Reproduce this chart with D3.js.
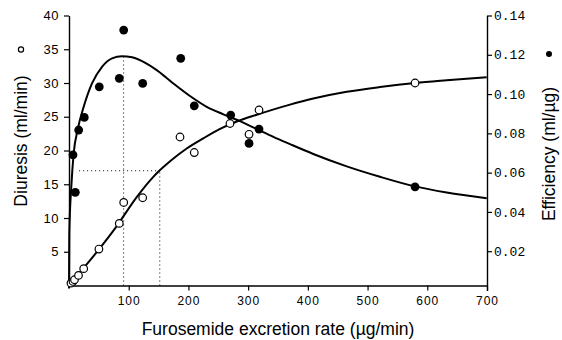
<!DOCTYPE html>
<html><head><meta charset="utf-8">
<script src="https://cdn.jsdelivr.net/npm/d3@7"></script>
<style>
html,body{margin:0;padding:0;background:#fff;}
svg{display:block;}
</style></head>
<body>
<svg id="chart" width="562" height="340"></svg>
<script>
// Open circles: diuresis (ml/min) vs furosemide excretion rate (µg/min)
const diuresisX = [3.3, 6.7, 9.2, 15.9, 24.6, 50.1, 84.2, 91.6, 123.4, 185.9, 209.8, 269.6, 301.5, 318.2, 579.5];
const diuresisY = [0.35, 0.6, 0.85, 1.5, 2.5, 5.4, 9.2, 12.3, 13.0, 22.0, 19.7, 24.0, 22.4, 26.0, 30.0];
// Filled dots: efficiency (ml/µg)
const efficiencyX = [6.7, 10.6, 16.2, 25.6, 50.7, 84.2, 91.6, 123.4, 187.1, 209.8, 270.8, 301.5, 318.2, 579.5];
const efficiencyY = [0.069, 0.050, 0.0817, 0.0881, 0.1037, 0.1080, 0.1326, 0.1054, 0.1182, 0.0940, 0.0893, 0.0749, 0.0822, 0.0528];
// Fitted curves
const diuresisCurveX = [0, 21.8, 49.7, 77.5, 113.4, 141.2, 151.2, 169.2, 197.1, 224.9, 252.9, 280.9, 314.4, 370.1, 409.1, 465.1, 520.8, 579.4, 632.5, 699.5];
const diuresisCurveY = [0, 2.3, 5.3, 8.5, 13.1, 16.1, 17.0, 18.4, 20.3, 21.8, 23.2, 24.3, 25.3, 26.8, 27.7, 28.7, 29.4, 30.0, 30.4, 30.85];
const efficiencyCurveX = [0, 0.5, 3.9, 7.9, 14.6, 24.6, 38.5, 55.3, 72.0, 88.8, 105.5, 127.8, 146.9, 174.7, 202.6, 230.6, 258.4, 286.4, 314.4, 342.2, 370.1, 409.1, 465.1, 520.7, 579.3, 632.4, 699.5];
const efficiencyCurveY = [0.001, 0.029, 0.053, 0.070, 0.082, 0.0935, 0.1054, 0.1139, 0.1182, 0.1193, 0.1187, 0.1159, 0.1122, 0.1054, 0.0990, 0.0935, 0.0897, 0.0862, 0.0822, 0.0782, 0.0745, 0.0695, 0.0632, 0.0579, 0.0530, 0.0499, 0.0470];
// Dotted guide lines
const peakRate = 91.5, peakEff = 0.1193;
const halfRate = 152, halfDiuresis = 17, halfLineStart = 17;
// Tick labels
const xTicks = [100, 200, 300, 400, 500, 600, 700];
const yLeftTicks = [5, 10, 15, 20, 25, 30, 35, 40];
const yRightTicks = [0.02, 0.04, 0.06, 0.08, 0.10, 0.12, 0.14];
const xTitle = "Furosemide excretion rate (\u00b5g/min)";
const yLeftTitle = "Diuresis (ml/min)";
const yRightTitle = "Efficiency (ml/\u00b5g)";

const svg = d3.select("#chart");
const x = d3.scaleLinear().domain([0, 700]).range([69, 487]);
const y = d3.scaleLinear().domain([0, 40]).range([285.5, 15.5]);
const y2 = d3.scaleLinear().domain([0, 0.14]).range([290.5, 15.5]);

// Axes
const gx = svg.append("g").attr("transform", "translate(0,285.5)")
  .call(d3.axisBottom(x).tickValues(xTicks).tickSize(5).tickSizeOuter(0).tickPadding(6));
gx.selectAll("text").attr("font-family", "Liberation Sans, Arial, sans-serif").attr("font-size", 12).attr("letter-spacing", "1px");
const gy = svg.append("g").attr("transform", "translate(69,0)")
  .call(d3.axisLeft(y).tickValues(yLeftTicks).tickSize(5).tickSizeOuter(0).tickPadding(5));
gy.selectAll("text").attr("font-family", "Liberation Sans, Arial, sans-serif").attr("font-size", 13).attr("letter-spacing", "0.5px");
const gy2 = svg.append("g").attr("transform", "translate(487,0)")
  .call(d3.axisRight(y2).tickValues(yRightTicks).tickFormat(d3.format(".2f")).tickSize(5).tickSizeOuter(0).tickPadding(2));
gy2.selectAll("text").attr("font-family", "Liberation Mono, DejaVu Sans Mono, monospace").attr("font-size", 13);
svg.selectAll(".domain").attr("stroke", "#000").attr("stroke-width", 1.4);
svg.selectAll(".tick line").attr("stroke", "#000").attr("stroke-width", 1.2);
svg.selectAll(".tick text").attr("fill", "#000");

// Dotted guides
const dotted = svg.append("g").attr("stroke", "#000").attr("stroke-width", 1).attr("stroke-dasharray", "1,3").attr("fill", "none");
dotted.append("line").attr("x1", x(peakRate)).attr("x2", x(peakRate)).attr("y1", y(0)).attr("y2", y2(peakEff));
dotted.append("line").attr("x1", x(halfRate)).attr("x2", x(halfRate)).attr("y1", y(0)).attr("y2", y(halfDiuresis));
dotted.append("line").attr("x1", x(halfLineStart)).attr("x2", x(halfRate)).attr("y1", y(halfDiuresis)).attr("y2", y(halfDiuresis));

// Curves
const dLine = d3.line().x(d => x(d[0])).y(d => y(d[1])).curve(d3.curveMonotoneX);
const eLine = d3.line().x(d => x(d[0])).y(d => y2(d[1])).curve(d3.curveMonotoneX);
svg.append("path").datum(d3.zip(diuresisCurveX, diuresisCurveY)).attr("d", dLine)
  .attr("fill", "none").attr("stroke", "#000").attr("stroke-width", 2);
svg.append("path").datum(d3.zip(efficiencyCurveX, efficiencyCurveY)).attr("d", eLine)
  .attr("fill", "none").attr("stroke", "#000").attr("stroke-width", 2);

// Points
svg.append("g").selectAll("circle").data(d3.zip(diuresisX, diuresisY)).join("circle")
  .attr("cx", d => x(d[0])).attr("cy", d => y(d[1])).attr("r", 3.8)
  .attr("fill", "#fff").attr("stroke", "#000").attr("stroke-width", 1.2);
svg.append("g").selectAll("circle").data(d3.zip(efficiencyX, efficiencyY)).join("circle")
  .attr("cx", d => x(d[0])).attr("cy", d => y2(d[1])).attr("r", 4.4)
  .attr("fill", "#000");

// Titles
svg.append("text").attr("x", 278).attr("y", 335).attr("text-anchor", "middle")
  .attr("font-family", "Liberation Sans, Arial, sans-serif").attr("font-size", 17.5).text(xTitle);
svg.append("text").attr("transform", "translate(27,141) rotate(-90)").attr("text-anchor", "middle")
  .attr("font-family", "Liberation Sans, Arial, sans-serif").attr("font-size", 17.5).text(yLeftTitle);
svg.append("circle").attr("cx", 21).attr("cy", 49.5).attr("r", 2.6).attr("fill", "none").attr("stroke", "#000").attr("stroke-width", 1.2);
svg.append("text").attr("transform", "translate(555,154) rotate(-90)").attr("text-anchor", "middle")
  .attr("font-family", "Liberation Sans, Arial, sans-serif").attr("font-size", 17.5).text(yRightTitle);
svg.append("circle").attr("cx", 549).attr("cy", 54).attr("r", 3).attr("fill", "#000");
</script>
</body></html>
